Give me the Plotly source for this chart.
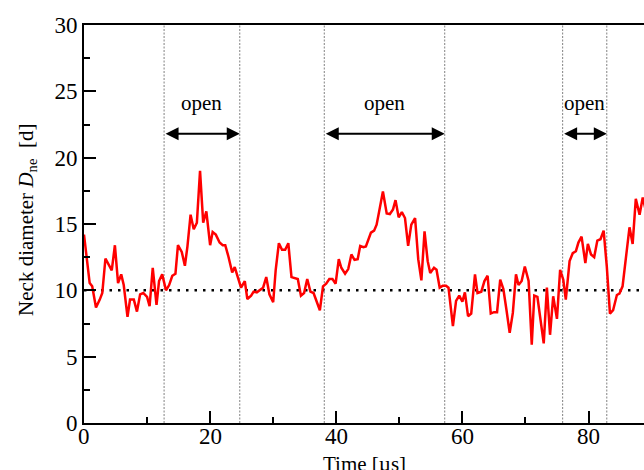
import plotly.graph_objects as go

# Time [µs]
time_us = [0, 0.9, 1.3, 1.9, 2.5, 2.9, 3.4, 3.9, 4.4, 4.9,
           5.4, 5.9, 6.3, 6.9, 7.3, 7.9, 8.4, 8.9, 9.4, 10.0,
           10.4, 10.9, 11.5, 11.9, 12.4, 13.0, 13.5, 14.0, 14.5, 14.9,
           15.5, 16.0, 16.4, 16.9, 17.4, 17.9, 18.4, 18.9, 19.4, 20.0,
           20.4, 20.9, 21.5, 22.0, 22.4, 22.9, 23.5, 23.9, 24.5, 24.9,
           25.5, 25.9, 26.5, 26.9, 27.4, 27.9, 28.4, 28.9, 29.4, 30.0,
           30.4, 30.9, 31.4, 31.9, 32.4, 32.9, 33.4, 33.9, 34.4, 34.9,
           35.4, 35.9, 36.4, 36.9, 37.4, 37.9, 38.4, 38.9, 39.4, 39.9,
           40.4, 40.8, 41.4, 41.9, 42.4, 42.9, 43.4, 43.8, 44.3, 44.7,
           45.5, 46.0, 46.4, 46.8, 47.4, 48.0, 48.5, 49.0, 49.4, 49.9,
           50.4, 50.9, 51.4, 51.9, 52.5, 53.0, 53.5, 54.0, 54.5, 54.9,
           55.5, 55.9, 56.4, 56.9, 57.4, 57.8, 58.5, 59.0, 59.5, 60.0,
           60.4, 60.9, 61.4, 62.0, 62.4, 63.0, 63.5, 64.0, 64.5, 65.0,
           65.5, 66.0, 66.5, 67.0, 67.5, 68.0, 68.5, 68.9, 69.4, 69.9,
           70.5, 71.0, 71.4, 71.9, 72.4, 72.9, 73.4, 73.9, 74.4, 75.0,
           75.5, 76.0, 76.4, 77.0, 77.5, 78.0, 78.4, 78.9, 79.5, 79.9,
           80.4, 80.9, 81.4, 81.9, 82.4, 82.9, 83.4, 83.9, 84.5, 84.9,
           85.4, 85.9, 86.5, 87.0, 87.5, 88.1, 88.6, 89.1]

# Neck diameter D_ne [d]
neck_d = [14.2, 10.55, 10.3, 8.7, 9.3, 9.8, 12.4, 12.0, 11.5, 13.4,
          10.55, 11.2, 10.4, 8.0, 9.3, 9.3, 8.4, 9.7, 9.8, 9.5,
          8.8, 11.7, 8.9, 10.7, 11.2, 10.0, 10.4, 11.1, 11.25, 13.4,
          12.9, 11.85, 13.3, 15.7, 14.6, 15.1, 19.0, 15.1, 15.95, 13.4,
          14.4, 14.2, 13.6, 13.4, 13.4, 12.55, 11.35, 11.75, 10.8, 10.2,
          10.7, 9.35, 9.6, 9.9, 9.85, 10.0, 10.2, 11.0, 9.7, 9.1,
          11.55, 13.55, 13.05, 13.05, 13.55, 11.0, 10.9, 10.85, 9.6, 9.8,
          10.85, 9.9, 9.8, 9.2, 8.5, 10.3, 10.5, 10.85, 10.85, 10.5,
          12.35, 11.7, 11.25, 11.6, 12.7, 12.3, 12.35, 13.35, 13.25, 13.3,
          14.35, 14.5, 14.95, 15.95, 17.45, 15.8, 15.75, 16.1, 16.8, 15.5,
          15.9, 15.45, 13.35, 14.95, 15.45, 12.35, 10.75, 14.45, 12.2, 11.3,
          11.7, 11.55, 10.2, 10.35, 10.35, 10.2, 7.3, 9.2, 9.6, 9.15,
          9.85, 8.05, 8.25, 11.2, 9.8, 9.9, 10.7, 11.1, 8.25, 8.35,
          8.35, 10.8, 10.1, 8.5, 6.8, 8.3, 11.2, 10.4, 10.7, 11.8,
          10.7, 5.9, 9.6, 9.5, 7.8, 6.0, 10.2, 6.65, 9.55, 7.85,
          11.55, 10.8, 9.3, 12.2, 12.8, 12.95, 13.6, 14.05, 12.05, 13.5,
          12.7, 12.5, 13.75, 13.85, 14.5, 11.8, 8.25, 8.5, 9.65, 9.75,
          10.3, 12.45, 14.75, 13.5, 16.9, 15.7, 17.0, 16.0]

# axis ticks
x_ticks = [0, 20, 40, 60, 80]
x_minor = [10, 30, 50, 70]
y_ticks = [0, 5, 10, 15, 20, 25, 30]
y_minor = [2.5, 7.5, 12.5, 17.5, 22.5, 27.5]

# "open" intervals [start, end] in µs
open_start = [12.7, 38.1, 75.9]
open_end = [24.7, 57.2, 82.9]
open_label = ["open", "open", "open"]
reference_level = 10
label_y = 24.1
arrow_y = 21.8

FONT = "Liberation Serif"

fig = go.Figure()
fig.add_trace(go.Scatter(x=time_us, y=neck_d, mode="lines",
                         line=dict(color="#ff0000", width=2.5),
                         showlegend=False, hoverinfo="skip"))

# vertical dotted lines
for xv in open_start + open_end:
    fig.add_shape(type="line", xref="x", yref="y", x0=xv, x1=xv, y0=0, y1=30,
                  line=dict(color="#808080", width=1, dash="2px,1.5px"), layer="below")

# horizontal reference line
fig.add_shape(type="line", xref="x", yref="y", x0=0, x1=88.8,
              y0=reference_level, y1=reference_level,
              line=dict(color="black", width=2.5, dash="2.5px,6px"), layer="below")

for s, e, lab in zip(open_start, open_end, open_label):
    fig.add_annotation(x=e, y=arrow_y, ax=s, ay=arrow_y, xref="x", yref="y",
                       axref="x", ayref="y", text="", showarrow=True,
                       arrowside="end+start", arrowhead=2, startarrowhead=2,
                       arrowsize=1.3, startarrowsize=1.3, arrowwidth=2,
                       arrowcolor="black")
    fig.add_annotation(x=(s + e) / 2, y=label_y, xref="x", yref="y", text=lab,
                       showarrow=False, font=dict(family=FONT, size=21, color="black"),
                       yanchor="middle")

# x tick labels (placed close to the axis like the reference)
for xv in x_ticks:
    fig.add_annotation(x=xv, xref="x", yref="paper", y=0.0, yanchor="top",
                       xanchor="center", text=str(xv), showarrow=False,
                       borderpad=0, font=dict(family=FONT, size=23, color="black"))

# axis titles
fig.add_annotation(xref="paper", yref="paper", x=0.5, y=-0.071, yanchor="top",
                   xanchor="center", text="Time [µs]", showarrow=False, borderpad=0,
                   font=dict(family=FONT, size=21, color="black"))
fig.add_annotation(xref="paper", yref="paper", x=-0.102, y=0.51, xanchor="center",
                   yanchor="middle", textangle=-90,
                   text="Neck diameter <i>D</i><sub>ne</sub>  [d]", showarrow=False,
                   font=dict(family=FONT, size=21, color="black"))

fig.update_layout(
    width=644, height=470,
    margin=dict(l=84, r=0, t=25, b=47),
    paper_bgcolor="white", plot_bgcolor="white",
    font=dict(family=FONT, size=23, color="black"),
    xaxis=dict(range=[0, 88.8], tickvals=x_ticks, ticks="inside", showticklabels=False,
               ticklen=12, tickwidth=2, tickcolor="black",
               showline=True, linewidth=2, linecolor="black", mirror=True,
               showgrid=False, zeroline=False,
               minor=dict(tickvals=x_minor, ticks="inside", ticklen=6,
                          tickwidth=2, tickcolor="black", showgrid=False)),
    yaxis=dict(range=[0, 30], tickvals=y_ticks, ticks="inside",
               ticklen=12, tickwidth=2, tickcolor="black",
               showline=True, linewidth=2, linecolor="black",
               showgrid=False, zeroline=False,
               tickfont=dict(family=FONT, size=23, color="black"),
               minor=dict(tickvals=y_minor, ticks="inside",
                          ticklen=6, tickwidth=2, tickcolor="black", showgrid=False)),
)

fig.write_html("out.html")
